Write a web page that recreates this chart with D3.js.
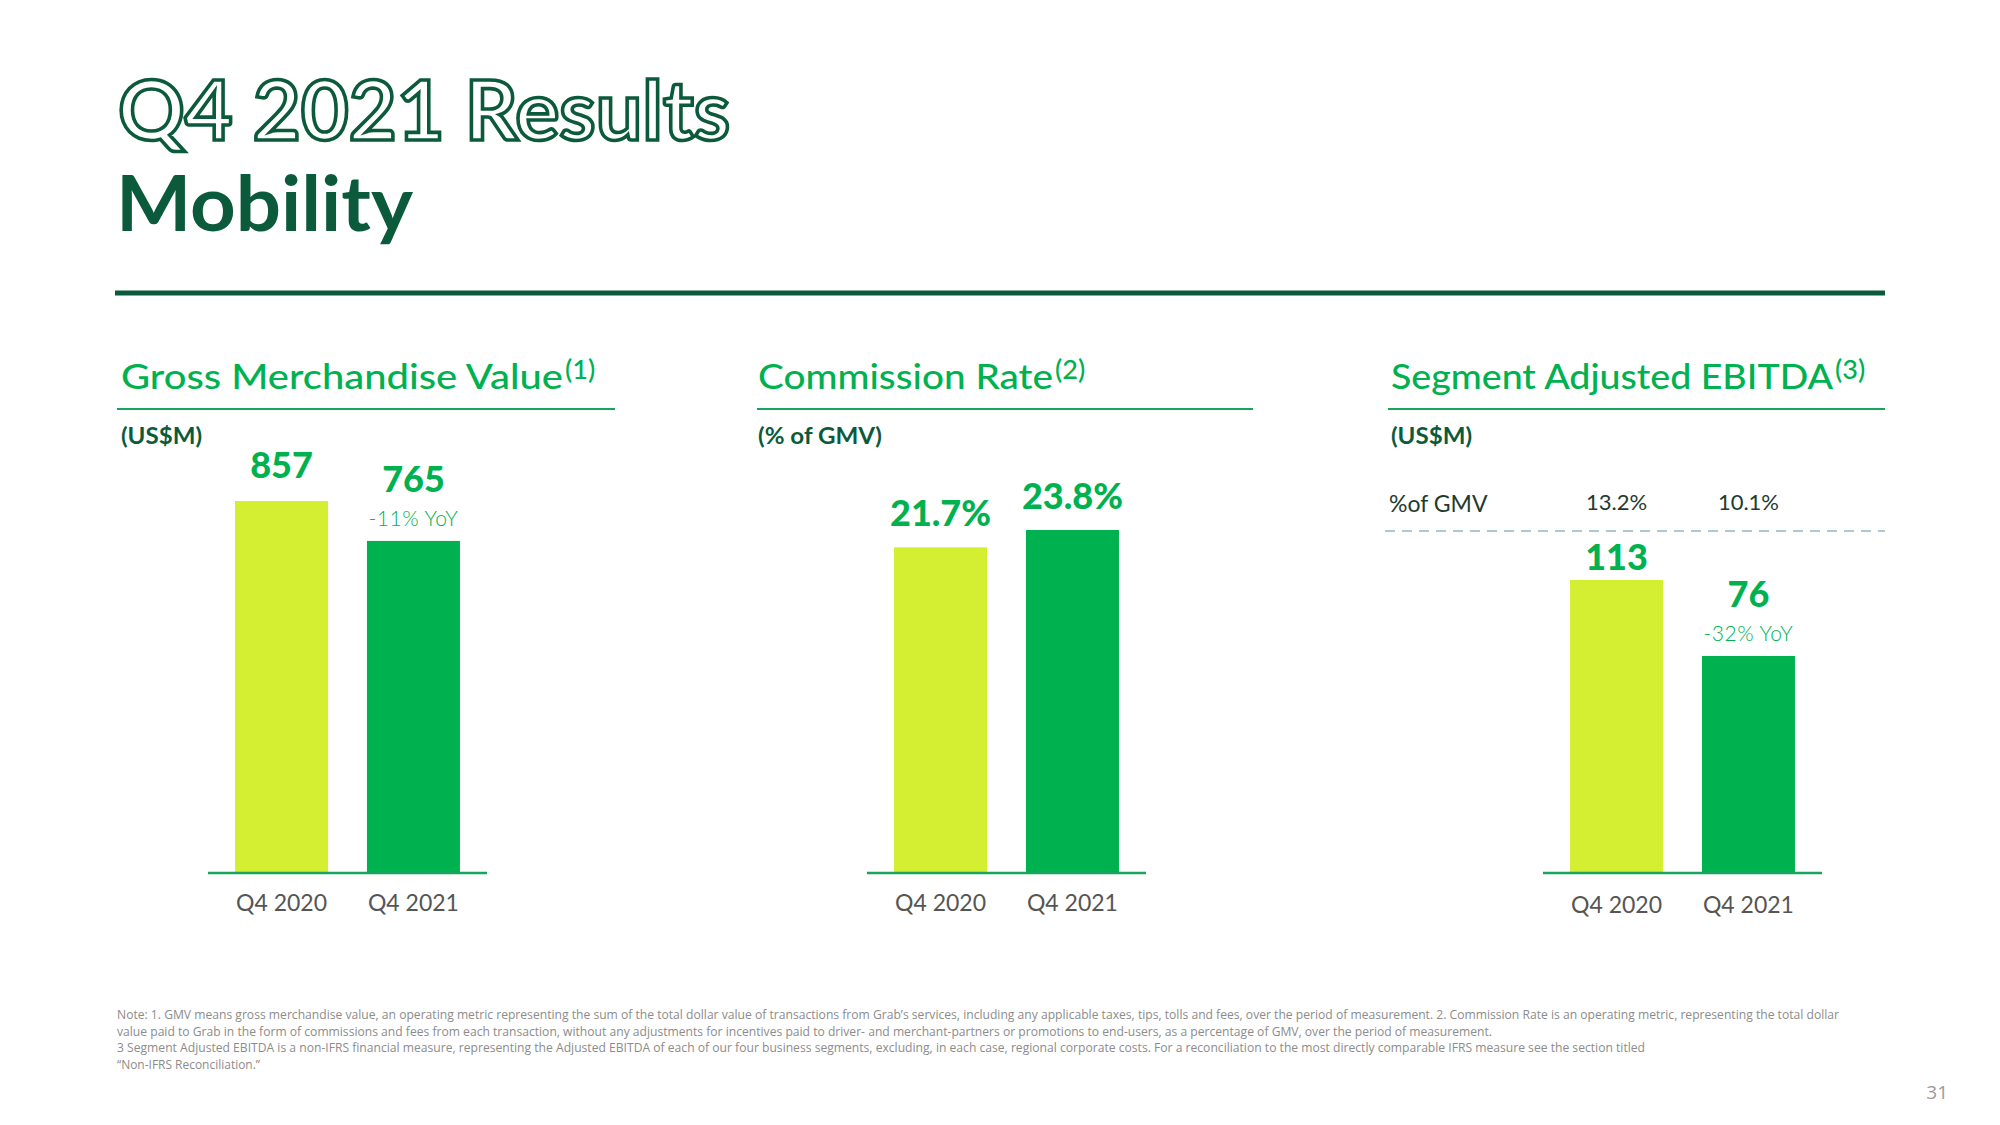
<!DOCTYPE html>
<html><head><meta charset="utf-8">
<script src="https://cdn.jsdelivr.net/npm/d3@7"></script>
<style>body{margin:0;background:#fff}svg{display:block}</style>
</head><body>
<svg id="c" width="2000" height="1125"></svg>
<script>
// ---------- data ----------
const categories = ["Q4 2020", "Q4 2021"];
const gmvValues = [857, 765];
const commissionValues = [21.7, 23.8];
const ebitdaValues = [113, 76];
const ebitdaPctOfGmv = [13.2, 10.1];
const gmvYoY = "-11% YoY";
const ebitdaYoY = "-32% YoY";
const panelTitles = ["Gross Merchandise Value", "Commission Rate", "Segment Adjusted EBITDA"];
const panelNotes = ["(1)", "(2)", "(3)"];
const panelUnits = ["(US$M)", "(% of GMV)", "(US$M)"];
const noteLines = [
  "Note: 1. GMV means gross merchandise value, an operating metric representing the sum of the total dollar value of transactions from Grab\u2019s services, including any applicable taxes, tips, tolls and fees, over the period of measurement. 2. Commission Rate is an operating metric, representing the total dollar",
  "value paid to Grab in the form of commissions and fees from each transaction, without any adjustments for incentives paid to driver- and merchant-partners or promotions to end-users, as a percentage of GMV, over the period of measurement.",
  "3 Segment Adjusted EBITDA is a non-IFRS financial measure, representing the Adjusted EBITDA of each of our four business segments, excluding, in each case, regional corporate costs. For a reconciliation to the most directly comparable IFRS measure see the section titled",
  "\u201CNon-IFRS Reconciliation.\u201D"
];

// ---------- style / layout ----------
const C = {dark: "#0b5a3b", green: "#00b14f", rule: "#16a55a", lime: "#d4ee32", gray: "#555555", note: "#8c8c8c", dash: "#a9c9d6"};
const FONT = "Lato, 'Open Sans', sans-serif";
const baseY = 873;
const svg = d3.select("#c");
const color = d3.scaleOrdinal().domain(categories).range([C.lime, C.green]);

// header
svg.append("text").attr("x", 118).attr("y", 140)
  .attr("font-family", FONT).attr("font-weight", 700).attr("font-size", 83)
  .attr("fill", "#fff").attr("stroke", C.dark).attr("stroke-width", 3.6)
  .attr("textLength", 612).attr("lengthAdjust", "spacingAndGlyphs")
  .text("Q4 2021 Results");
svg.append("text").attr("x", 116).attr("y", 231)
  .attr("font-family", FONT).attr("font-weight", 700).attr("font-size", 77)
  .attr("fill", C.dark)
  .attr("textLength", 297).attr("lengthAdjust", "spacingAndGlyphs")
  .text("Mobility");
svg.append("line").attr("x1", 115).attr("x2", 1885).attr("y1", 293).attr("y2", 293)
  .attr("stroke", C.dark).attr("stroke-width", 5);

const layouts = [
  {values: gmvValues, fmt: d3.format("d"), yoy: gmvYoY, tx: 121, tw: 442, rx: [117, 615], ax: 208, dmin: 0, top: 501, gap: 23, pad: 22, uw: 81},
  {values: commissionValues, fmt: d => d3.format(".1f")(d) + "%", yoy: null, tx: 758, tw: 295, rx: [757, 1253], ax: 867, dmin: -17.8, top: 530, gap: 21, pad: 22, uw: 124},
  {values: ebitdaValues, fmt: d3.format("d"), yoy: ebitdaYoY, tx: 1391, tw: 442, rx: [1388, 1885], ax: 1543, dmin: -29.7, top: 580, gap: 10, pad: 24, uw: 81}
];

layouts.forEach((p, i) => {
  const g = svg.append("g");
  // title
  g.append("text").attr("x", p.tx).attr("y", 389)
    .attr("font-family", FONT).attr("font-weight", 500).attr("font-size", 35)
    .attr("fill", C.green)
    .attr("textLength", p.tw).attr("lengthAdjust", "spacingAndGlyphs")
    .text(panelTitles[i]);
  g.append("text").attr("x", p.tx + p.tw + 2).attr("y", 379)
    .attr("font-family", FONT).attr("font-weight", 500).attr("font-size", 27)
    .attr("fill", C.green).text(panelNotes[i]);
  g.append("line").attr("x1", p.rx[0]).attr("x2", p.rx[1]).attr("y1", 409).attr("y2", 409)
    .attr("stroke", C.rule).attr("stroke-width", 2);
  g.append("text").attr("x", p.tx).attr("y", 444)
    .attr("font-family", FONT).attr("font-weight", 700).attr("font-size", 23)
    .attr("fill", C.dark)
    .attr("textLength", p.uw).attr("lengthAdjust", "spacingAndGlyphs")
    .text(panelUnits[i]);

  const x = d3.scaleBand().domain(categories).range([p.ax, p.ax + 279])
    .paddingInner(0.295).paddingOuter(0.205);
  const vmax = d3.max(p.values);
  const y = d3.scaleLinear().domain([p.dmin, vmax]).range([baseY, p.top]);

  const data = categories.map((c, k) => ({c, v: p.values[k], k}));
  g.selectAll("rect.bar").data(data).join("rect").attr("class", "bar")
    .attr("x", d => x(d.c)).attr("width", x.bandwidth())
    .attr("y", d => y(d.v)).attr("height", d => baseY - y(d.v))
    .attr("fill", d => color(d.c));

  // value labels
  g.selectAll("text.val").data(data).join("text").attr("class", "val")
    .attr("x", d => x(d.c) + x.bandwidth() / 2)
    .attr("y", d => (p.yoy && d.k === 1) ? y(d.v) - 49 : y(d.v) - p.gap)
    .attr("text-anchor", "middle")
    .attr("font-family", FONT).attr("font-weight", 900).attr("font-size", 36)
    .attr("fill", C.green).text(d => p.fmt(d.v));
  if (p.yoy) {
    const d = data[1];
    g.append("text").attr("x", x(d.c) + x.bandwidth() / 2).attr("y", y(d.v) - 15)
      .attr("text-anchor", "middle")
      .attr("font-family", FONT).attr("font-weight", 300).attr("font-size", 21)
      .attr("letter-spacing", 0.5)
      .attr("fill", C.green).text(p.yoy);
  }

  // axis
  const axis = g.append("g").attr("transform", `translate(0,${baseY})`)
    .call(d3.axisBottom(x).tickSize(0).tickSizeOuter(0).tickPadding(p.pad));
  axis.select(".domain").attr("stroke", C.rule).attr("stroke-width", 2.5)
    .attr("d", `M${p.ax},0H${p.ax + 279}`);
  axis.selectAll(".tick text").attr("font-family", FONT).attr("font-size", 23)
    .attr("fill", C.gray);

  if (i === 2) {
    g.append("text").attr("x", 1389).attr("y", 512)
      .attr("font-family", FONT).attr("font-size", 23).attr("fill", "#1f3b2e")
      .text("%of GMV");
    g.selectAll("text.pct").data(data).join("text").attr("class", "pct")
      .attr("x", d => x(d.c) + x.bandwidth() / 2).attr("y", 510)
      .attr("text-anchor", "middle")
      .attr("font-family", FONT).attr("font-size", 22).attr("fill", "#1f3b2e")
      .text((d) => d3.format(".1f")(ebitdaPctOfGmv[d.k]) + "%");
    g.append("line").attr("x1", 1385).attr("x2", 1885).attr("y1", 531).attr("y2", 531)
      .attr("stroke", C.dash).attr("stroke-width", 2).attr("stroke-dasharray", "10,7");
  }
});

// notes
const noteWidths = [1722, 1375, 1528, 143];
svg.selectAll("text.note").data(noteLines).join("text").attr("class", "note")
  .attr("x", 117).attr("y", (d, i) => 1019 + i * 16.6)
  .attr("font-family", "'Liberation Sans Narrow', 'Open Sans', sans-serif")
  .attr("font-size", 13).attr("fill", C.note)
  .attr("textLength", (d, i) => noteWidths[i]).attr("lengthAdjust", "spacingAndGlyphs")
  .text(d => d);

svg.append("text").attr("x", 1948).attr("y", 1099).attr("text-anchor", "end")
  .attr("font-family", "'Liberation Sans Narrow', 'Open Sans', sans-serif")
  .attr("font-size", 19).attr("fill", "#9a9a9a").text("31");
</script>
</body></html>
